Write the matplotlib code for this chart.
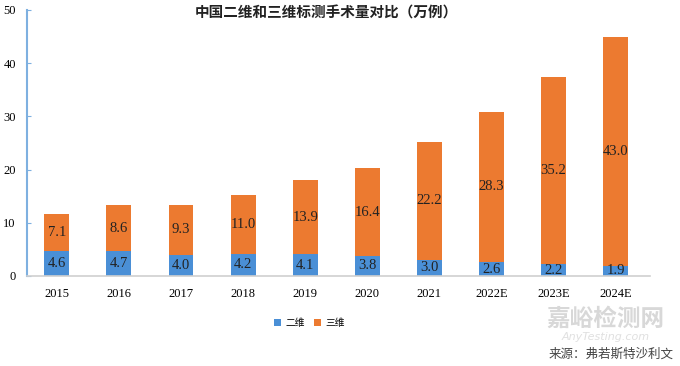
import matplotlib
matplotlib.use("Agg")
import matplotlib.pyplot as plt
import numpy as np

plt.rcParams['font.family'] = ['Liberation Serif', 'Noto Sans CJK SC']

years = ['2015', '2016', '2017', '2018', '2019', '2020', '2021', '2022E', '2023E', '2024E']
two_d = [4.6, 4.7, 4.0, 4.2, 4.1, 3.8, 3.0, 2.6, 2.2, 1.9]
three_d = [7.1, 8.6, 9.3, 11.0, 13.9, 16.4, 22.2, 28.3, 35.2, 43.0]

blue = '#4a8fd6'
orange = '#ec7a30'
cjk = ['Noto Sans CJK SC', 'DejaVu Sans']

fig = plt.figure(figsize=(6.8, 3.66), dpi=100)
ax = fig.add_axes([0.0397, 0.246, 0.916, 0.727])

x = np.arange(len(years))
w = 0.4
b1 = ax.bar(x, two_d, w, color=blue, label='二维')
b2 = ax.bar(x, three_d, w, bottom=two_d, color=orange, label='三维')

for xi, a, b in zip(x, two_d, three_d):
    ax.text(xi, a / 2, f'{a:.1f}', ha='center', va='center', fontsize=10.5, color='#222222')
    ax.text(xi, a + b / 2, f'{b:.1f}', ha='center', va='center', fontsize=10.5, color='#222222')

ax.set_xlim(-0.48, 9.55)
ax.set_ylim(0, 50)
ax.set_yticks([0, 10, 20, 30, 40, 50])
ax.set_xticks(x)
ax.set_xticklabels(years)

for s in ['top', 'right']:
    ax.spines[s].set_visible(False)
ax.spines['left'].set_color('#7eb0e0')
ax.spines['left'].set_linewidth(1.5)
ax.spines['bottom'].set_color('#d0d0d0')
ax.spines['bottom'].set_linewidth(1.2)
ax.tick_params(axis='y', direction='in', length=3, color='#7eb0e0', labelsize=9, pad=8)
ax.tick_params(axis='x', length=0, labelsize=9, pad=9)

fig.text(0.48, 0.967, '中国二维和三维标测手术量对比（万例）', ha='center', va='center',
         fontsize=10.5, fontweight='bold', family=cjk, color='#222222')

leg = fig.legend(handles=[b1, b2], loc='center', bbox_to_anchor=(0.455, 0.118), ncol=2,
                 frameon=False, handlelength=0.7, handleheight=0.7,
                 columnspacing=1.0, handletextpad=0.4, prop={'family': cjk, 'size': 7})

# watermark and source
fig.text(0.89, 0.13, '嘉峪检测网', ha='center', va='center', fontsize=17,
         family=cjk, color='#d8d8d8', fontweight='bold')
fig.text(0.89, 0.078, 'AnyTesting.com', ha='center', va='center', fontsize=8,
         family=['DejaVu Sans'], style='italic', color='#e0e0e0')
fig.text(0.99, 0.033, '来源：弗若斯特沙利文', ha='right', va='center', fontsize=9,
         family=cjk, color='#444444')

fig.savefig('out.png', dpi=100)
